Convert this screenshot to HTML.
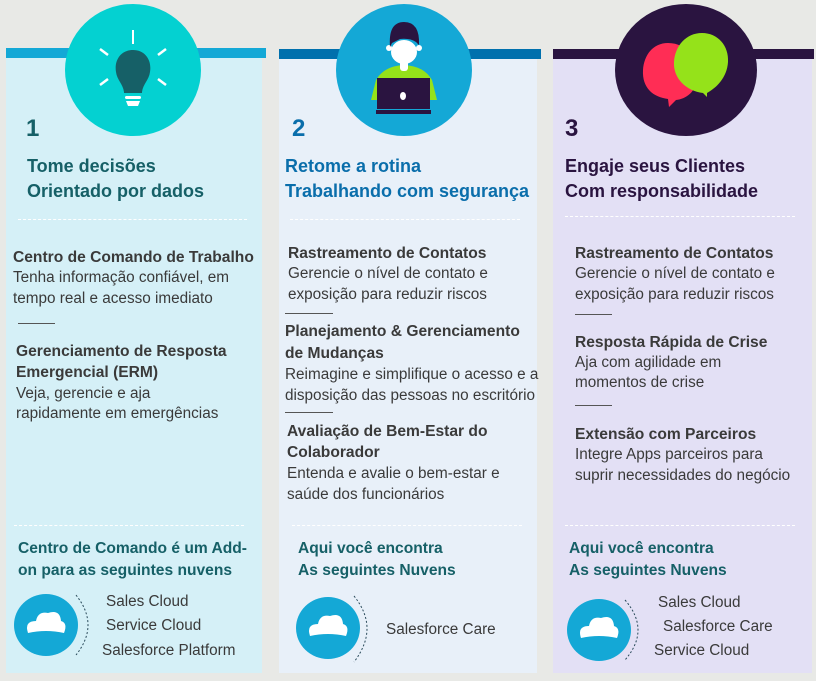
<!DOCTYPE html>
<html><head><meta charset="utf-8"><style>
body{margin:0;width:816px;height:681px;background:#e8e9e6;position:relative;overflow:hidden;font-family:"Liberation Sans",sans-serif;}
.p{position:absolute;}
.t{position:absolute;white-space:nowrap;line-height:20px;font-size:15.3px;color:#3a3a3a;}
.b{font-weight:bold;font-size:15.6px;}
.h{font-size:18px;font-weight:bold;line-height:24px;}
.n{font-size:24px;font-weight:bold;line-height:28px;}
.dash{position:absolute;border-top:1px dashed #fff;height:0;}
.sl{position:absolute;height:1px;background:#555;}
.c1{color:#166067}.c2{color:#0a6eab}.c3{color:#2a1440}
</style></head><body>
<div class="p" style="left:6px;top:48px;width:256px;height:625px;background:#d5f0f7"></div>
<div class="p" style="left:6px;top:48px;width:260px;height:10px;background:#14a8d6"></div>
<div class="p" style="left:279px;top:49px;width:258px;height:624px;background:#e8f0f9"></div>
<div class="p" style="left:279px;top:49px;width:262px;height:10px;background:#0070ad"></div>
<div class="p" style="left:553px;top:49px;width:259px;height:624px;background:#e3e0f5"></div>
<div class="p" style="left:553px;top:49px;width:261px;height:10px;background:#2a1440"></div>

<svg class="p" style="left:0;top:0" width="816" height="140">
 <ellipse cx="133" cy="70" rx="68" ry="66" fill="#04d1d1"/>
 <line x1="133" y1="30" x2="133" y2="44" stroke="#fff" stroke-width="2"/>
 <line x1="100" y1="49" x2="108" y2="55" stroke="#fff" stroke-width="2.5"/>
 <line x1="166" y1="49" x2="158" y2="55" stroke="#fff" stroke-width="2.5"/>
 <line x1="100" y1="85" x2="108" y2="79" stroke="#fff" stroke-width="2.5"/>
 <line x1="166" y1="85" x2="158" y2="79" stroke="#fff" stroke-width="2.5"/>
 <path d="M133 50 C145 50 152 60 150 72 C149 80 143 84 142 92 L142 93 L124 93 L124 92 C123 84 117 80 116 72 C114 60 121 50 133 50Z" fill="#166067"/>
 <rect x="125" y="96" width="16" height="3" rx="1.5" fill="#fff"/>
 <path d="M126 101 L140 101 L138 106 L128 106Z" fill="#fff"/>

 <ellipse cx="404" cy="70" rx="68" ry="66" fill="#14a8d6"/>
 <path d="M371 100 L376 80 Q384 66 404 65 Q424 66 432 80 L437 100Z" fill="#95e21a"/>
 <ellipse cx="404" cy="52" rx="13" ry="12" fill="#fff"/>
 <circle cx="389" cy="48" r="3" fill="#fff"/><circle cx="419" cy="48" r="3" fill="#fff"/>
 <rect x="400" y="58" width="8" height="13" rx="3" fill="#fff"/>
 <path d="M390 47 Q388 22 404 22 Q420 22 419 45 L416 42 Q410 38 400 39 L392 43Z" fill="#2a1440"/>
 <rect x="377" y="78" width="53" height="31" fill="#2a1440"/>
 <rect x="376" y="110" width="55" height="4" fill="#2a1440"/>
 <ellipse cx="403" cy="96" rx="3" ry="4" fill="#fff"/>

 <ellipse cx="686" cy="70" rx="71" ry="66" fill="#2a1440"/>
 <path d="M668 43 C688 43 698 60 697 78 C696 92 686 99 676 100 L669 107 L668 99 C653 97 642 88 643 70 C644 55 653 43 668 43Z" fill="#ff2d55"/>
 <path d="M702 33 C718 33 729 46 728 62 C727 78 716 88 707 93 L707 97 L703 93 C686 91 673 78 674 62 C675 46 686 33 702 33Z" fill="#95e21a"/>
</svg>

<div class="t n c1" style="left:26px;top:115px">1</div>
<div class="t h c1" style="left:27px;top:154px">Tome decisões</div>
<div class="t h c1" style="left:27px;top:179px">Orientado por dados</div>
<div class="dash" style="left:18px;top:219px;width:229px"></div>
<div class="t b" style="left:13px;top:248px">Centro de Comando de Trabalho</div>
<div class="t" style="left:13px;top:268px">Tenha informação confiável, em</div>
<div class="t" style="left:13px;top:289px">tempo real e acesso imediato</div>
<div class="sl" style="left:18px;top:323px;width:37px"></div>
<div class="t b" style="left:16px;top:342px">Gerenciamento de Resposta</div>
<div class="t b" style="left:16px;top:363px">Emergencial (ERM)</div>
<div class="t" style="left:16px;top:384px">Veja, gerencie e aja</div>
<div class="t" style="left:16px;top:404px">rapidamente em emergências</div>
<div class="dash" style="left:14px;top:525px;width:230px"></div>
<div class="t b c1" style="left:18px;top:539px">Centro de Comando é um Add-</div>
<div class="t b c1" style="left:18px;top:561px">on para as seguintes nuvens</div>

<div class="t n c2" style="left:292px;top:115px">2</div>
<div class="t h c2" style="left:285px;top:154px">Retome a rotina</div>
<div class="t h c2" style="left:285px;top:179px">Trabalhando com segurança</div>
<div class="dash" style="left:290px;top:219px;width:230px"></div>
<div class="t b" style="left:288px;top:244px">Rastreamento de Contatos</div>
<div class="t" style="left:288px;top:264px">Gerencie o nível de contato e</div>
<div class="t" style="left:288px;top:285px">exposição para reduzir riscos</div>
<div class="sl" style="left:285px;top:313px;width:48px"></div>
<div class="t b" style="left:285px;top:322px">Planejamento &amp; Gerenciamento</div>
<div class="t b" style="left:285px;top:344px">de Mudanças</div>
<div class="t" style="left:285px;top:365px">Reimagine e simplifique o acesso e a</div>
<div class="t" style="left:285px;top:386px">disposição das pessoas no escritório</div>
<div class="sl" style="left:285px;top:412px;width:48px"></div>
<div class="t b" style="left:287px;top:422px">Avaliação de Bem-Estar do</div>
<div class="t b" style="left:287px;top:443px">Colaborador</div>
<div class="t" style="left:287px;top:464px">Entenda e avalie o bem-estar e</div>
<div class="t" style="left:287px;top:485px">saúde dos funcionários</div>
<div class="dash" style="left:292px;top:525px;width:230px"></div>
<div class="t b c1" style="left:298px;top:539px">Aqui você encontra</div>
<div class="t b c1" style="left:298px;top:561px">As seguintes Nuvens</div>

<div class="t n c3" style="left:565px;top:115px">3</div>
<div class="t h c3" style="left:565px;top:154px">Engaje seus Clientes</div>
<div class="t h c3" style="left:565px;top:179px">Com responsabilidade</div>
<div class="dash" style="left:565px;top:216px;width:230px"></div>
<div class="t b" style="left:575px;top:244px">Rastreamento de Contatos</div>
<div class="t" style="left:575px;top:264px">Gerencie o nível de contato e</div>
<div class="t" style="left:575px;top:285px">exposição para reduzir riscos</div>
<div class="sl" style="left:575px;top:314px;width:37px"></div>
<div class="t b" style="left:575px;top:333px">Resposta Rápida de Crise</div>
<div class="t" style="left:575px;top:353px">Aja com agilidade em</div>
<div class="t" style="left:575px;top:373px">momentos de crise</div>
<div class="sl" style="left:575px;top:405px;width:37px"></div>
<div class="t b" style="left:575px;top:425px">Extensão com Parceiros</div>
<div class="t" style="left:575px;top:445px">Integre Apps parceiros para</div>
<div class="t" style="left:575px;top:466px">suprir necessidades do negócio</div>
<div class="dash" style="left:565px;top:525px;width:230px"></div>
<div class="t b c1" style="left:569px;top:539px">Aqui você encontra</div>
<div class="t b c1" style="left:569px;top:561px">As seguintes Nuvens</div>

<svg class="p" style="left:0;top:580px" width="816" height="90">
 <g transform="translate(46,45)">
  <ellipse cx="0" cy="0" rx="32" ry="31" fill="#14a8d6"/>
  <path d="M-18 8 Q-22 -4 -10 -4 Q-8 -14 2 -12 Q14 -16 15 -4 Q22 -2 18 8 Q0 4 -18 8Z" fill="#fff"/>
  <path d="M30 -30 Q54 0 30 30" fill="none" stroke="#2a4a5a" stroke-width="1" stroke-dasharray="2,2"/>
 </g>
 <g transform="translate(328,48)">
  <ellipse cx="0" cy="0" rx="32" ry="31" fill="#14a8d6"/>
  <path d="M-18 8 Q-22 -4 -10 -4 Q-8 -14 2 -12 Q14 -16 15 -4 Q22 -2 18 8 Q0 4 -18 8Z" fill="#fff"/>
  <path d="M26 -32 Q52 0 26 34" fill="none" stroke="#2a4a5a" stroke-width="1" stroke-dasharray="2,2"/>
 </g>
 <g transform="translate(599,50)">
  <ellipse cx="0" cy="0" rx="32" ry="31" fill="#14a8d6"/>
  <path d="M-18 8 Q-22 -4 -10 -4 Q-8 -14 2 -12 Q14 -16 15 -4 Q22 -2 18 8 Q0 4 -18 8Z" fill="#fff"/>
  <path d="M26 -30 Q52 0 26 30" fill="none" stroke="#2a4a5a" stroke-width="1" stroke-dasharray="2,2"/>
 </g>
</svg>
<div class="t" style="left:106px;top:592px">Sales Cloud</div>
<div class="t" style="left:106px;top:616px">Service Cloud</div>
<div class="t" style="left:102px;top:641px">Salesforce Platform</div>
<div class="t" style="left:386px;top:620px">Salesforce Care</div>
<div class="t" style="left:658px;top:593px">Sales Cloud</div>
<div class="t" style="left:663px;top:617px">Salesforce Care</div>
<div class="t" style="left:654px;top:641px">Service Cloud</div>
</body></html>
